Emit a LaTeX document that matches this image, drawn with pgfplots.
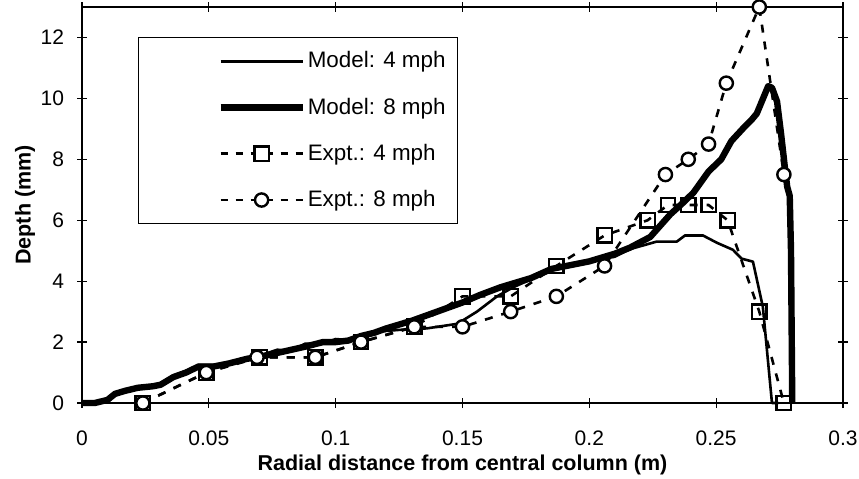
\documentclass[border=0pt]{standalone}
\usepackage{fontspec}
\setmainfont{Liberation Sans}
\usepackage{pgfplots}
\pgfplotsset{compat=1.18}
\begin{document}
\begin{tikzpicture}
\begin{axis}[
 scale only axis,
 width=380.5pt, height=198pt,
 xmin=0, xmax=0.3, ymin=0, ymax=13,
 xtick={0,0.05,0.1,0.15,0.2,0.25,0.3},
 ytick={0,2,4,6,8,10,12},
 tick align=center, major tick length=5pt,
 axis line style={line width=0.8pt},
 every tick/.style={black, line width=0.6pt},
 scaled x ticks=false,
 xticklabel style={/pgf/number format/fixed, /pgf/number format/precision=2},
 /pgf/number format/assume math mode=true,
 tick label style={font=\fontsize{10.5}{12}\selectfont},
 xticklabel shift=8pt,
 yticklabel shift=3pt,
 every axis x label/.style={at={(axis description cs:0.5,0)}, yshift=-31pt, anchor=center},
 every axis y label/.style={at={(axis description cs:0,0.5)}, xshift=-28.5pt, rotate=90, anchor=center},
 label style={font=\fontsize{10.75}{12}\selectfont\bfseries},
 xlabel={Radial distance from central column (m)},
 ylabel={Depth (mm)},
 clip=false,
 legend style={at={(0.0736,0.924)}, anchor=north west, draw=black, line width=0.6pt,
   font=\fontsize{11.2}{12}\selectfont, row sep=9.5pt, inner xsep=4pt, inner ysep=5pt,
   /tikz/every odd column/.style={column sep=-1pt}},
 legend cell align=left,
]
\addplot[black, line width=1.3pt, line join=round,
  legend image code/.code={\path[draw=none] (-37pt,0) -- (0,0); \draw[black, solid, line width=1.3pt] (0,0) -- (41pt,0);}]
 coordinates {(0,0)(0.005,0)(0.01,0.15)(0.014,0.35)(0.02,0.45)(0.027,0.5)(0.031,0.65)(0.036,0.9)(0.041,1.05)(0.046,1.25)(0.05,1.25)(0.057,1.25)(0.064,1.4)(0.07,1.55)(0.077,1.75)(0.082,1.7)(0.088,1.95)(0.095,1.95)(0.1,2.1)(0.107,2.05)(0.113,2.3)(0.1175,2.35)(0.125,2.4)(0.136,2.45)(0.148,2.6)(0.1557,3.0)(0.1636,3.5)(0.17,3.8)(0.178,4.1)(0.187,4.45)(0.195,4.6)(0.203,4.7)(0.21,4.8)(0.216,5.05)(0.2266,5.3)(0.2345,5.3)(0.2377,5.5)(0.2448,5.5)(0.2503,5.26)(0.2566,5.03)(0.260,4.74)(0.2645,4.64)(0.2684,3.16)(0.272,0)(0.2745,0)};
\addlegendentry{Model: 4 mph}
\addplot[black, line width=3.2pt, line join=round,
  legend image code/.code={\path[draw=none] (-37pt,0) -- (0,0); \draw[black, solid, line width=3.2pt] (0,0) -- (41pt,0);}]
 coordinates {(0,0)(0.005,0)(0.01,0.1)(0.013,0.3)(0.017,0.4)(0.022,0.5)(0.028,0.55)(0.031,0.6)(0.036,0.85)(0.041,1.0)(0.046,1.2)(0.052,1.2)(0.058,1.3)(0.065,1.45)(0.072,1.55)(0.08,1.7)(0.088,1.85)(0.095,2.0)(0.1,2.0)(0.105,2.05)(0.11,2.2)(0.115,2.3)(0.12,2.45)(0.13,2.7)(0.14,3.0)(0.15,3.3)(0.157,3.55)(0.165,3.8)(0.177,4.1)(0.185,4.4)(0.191,4.5)(0.2,4.65)(0.204,4.75)(0.21,4.9)(0.216,5.1)(0.224,5.45)(0.232,6.2)(0.236,6.5)(0.241,6.9)(0.247,7.6)(0.252,8.0)(0.256,8.6)(0.261,9.05)(0.264,9.3)(0.266,9.5)(0.268,9.9)(0.2705,10.4)(0.272,10.35)(0.274,9.9)(0.2755,8.9)(0.277,7.8)(0.278,7.1)(0.279,6.8)(0.2795,5.0)(0.28,0)};
\addlegendentry{Model: 8 mph}
\addplot[black, line width=1.3pt, dash pattern=on 4pt off 4.5pt, mark=square, mark size=3.6pt,
  mark options={solid, fill=white, line width=1.2pt},
  legend image code/.code={\path[draw=none] (-37pt,0) -- (0,0); \draw[black, line width=1.3pt, dash pattern=on 3.5pt off 4pt] (0,0) -- (41pt,0);
   \draw[black, solid, fill=white, line width=1.2pt] (20.5pt,0) +(-3.6pt,-3.6pt) rectangle +(3.6pt,3.6pt);}]
 coordinates {(0.024,0)(0.049,1.0)(0.070,1.5)(0.092,1.5)(0.110,2.0)(0.131,2.5)(0.150,3.5)(0.169,3.5)(0.187,4.5)(0.206,5.5)(0.223,6.0)(0.231,6.5)(0.239,6.5)(0.247,6.5)(0.2545,6.0)(0.267,3.0)(0.2767,0)};
\addlegendentry{Expt.: 4 mph}
\addplot[black, line width=1.3pt, dash pattern=on 4pt off 4.5pt, mark=*, mark size=3.3pt,
  mark options={solid, fill=white, line width=1.2pt},
  legend image code/.code={\path[draw=none] (-37pt,0) -- (0,0); \draw[black, line width=1.3pt, dash pattern=on 3.5pt off 4pt] (0,0) -- (41pt,0);
   \draw[black, solid, fill=white, line width=1.2pt] (20.5pt,0) circle (3.3pt);}]
 coordinates {(0.024,0)(0.049,1.0)(0.069,1.5)(0.092,1.5)(0.110,2.0)(0.131,2.5)(0.150,2.5)(0.169,3.0)(0.187,3.5)(0.206,4.5)(0.230,7.5)(0.239,8.0)(0.247,8.5)(0.254,10.5)(0.267,13.0)(0.2767,7.5)};
\addlegendentry{Expt.: 8 mph}
\coordinate (bbl) at (rel axis cs:-0.10775,-0.18939);
\coordinate (btr) at (rel axis cs:1.02102,1.01768);
\end{axis}
\pgfresetboundingbox
\path (bbl) rectangle (btr);
\end{tikzpicture}
\end{document}
